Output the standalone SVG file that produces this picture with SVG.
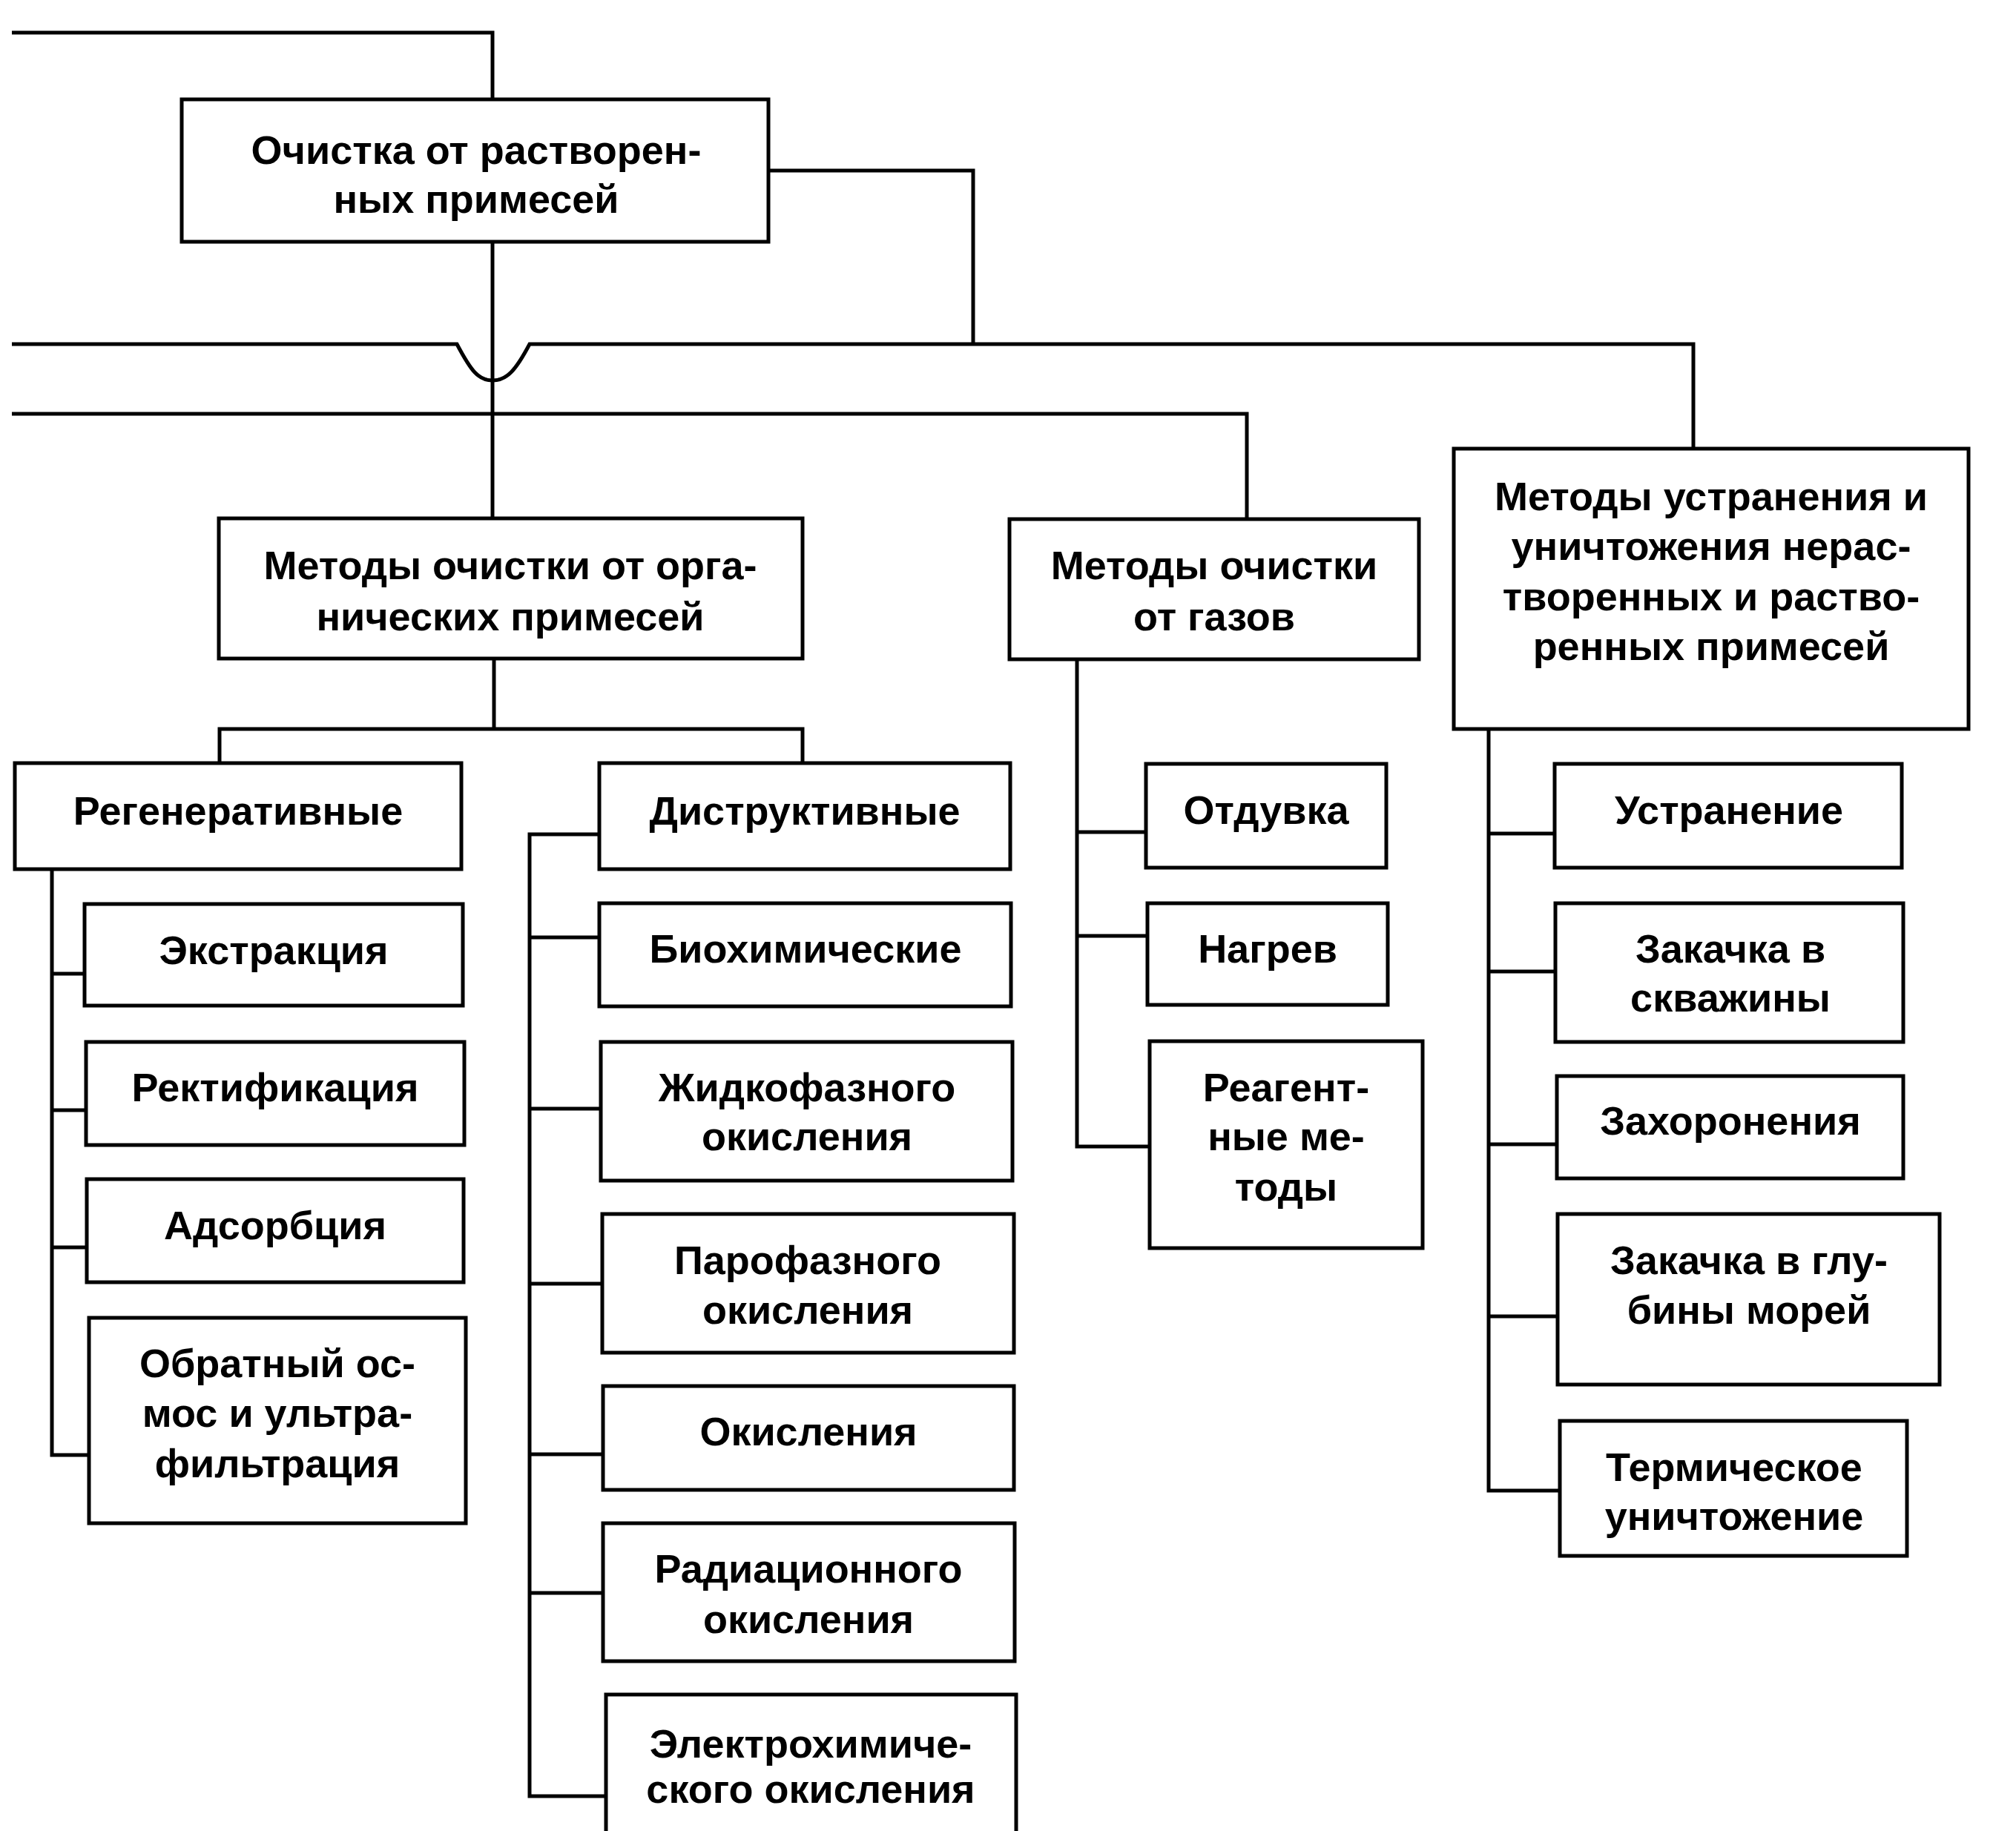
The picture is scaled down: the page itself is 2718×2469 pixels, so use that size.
<svg xmlns="http://www.w3.org/2000/svg" width="2718" height="2469" viewBox="0 0 2718 2469">
<style>
.box{fill:#fff;stroke:#000;stroke-width:5}
.ln{fill:none;stroke:#000;stroke-width:5;stroke-linejoin:miter}
text{font-family:"Liberation Sans",Arial,sans-serif;font-weight:bold;font-size:54px;fill:#000;text-anchor:middle}
</style>
<rect width="2718" height="2469" fill="#fff"/>
<g id="connectors">
<path class="ln" d="M16 44 H664 V134"/>
<path class="ln" d="M1036 230 H1312 V464"/>
<path class="ln" d="M16 464 L616 464 C635 500 645 513 664 513 C683 513 695 500 714 464 L2283 464 V605"/>
<path class="ln" d="M16 558 H1681 V700"/>
<path class="ln" d="M664 326 V699"/>
<path class="ln" d="M666 888 V983"/>
<path class="ln" d="M296 1029 V983 H1082 V1029"/>
<path class="ln" d="M70 1172 V1962 H120 M70 1313 H114 M70 1497 H116 M70 1682 H116"/>
<path class="ln" d="M808 1125 H714 V2422 H817 M714 1264 H808 M714 1495 H810 M714 1731 H812 M714 1961 H813 M714 2148 H813"/>
<path class="ln" d="M1452 889 V1546 H1550 M1452 1122 H1545 M1452 1262 H1547"/>
<path class="ln" d="M2007 983 V2010 H2103 M2007 1124 H2096 M2007 1310 H2097 M2007 1543 H2099 M2007 1775 H2100"/>
</g>
<g id="n-root"><rect class="box" x="245" y="134" width="791" height="192"/><text x="642" y="221">Очистка от растворен-</text><text x="642" y="287">ных примесей</text></g>
<g id="n-organic"><rect class="box" x="295" y="699" width="787" height="189"/><text x="688" y="781">Методы очистки от орга-</text><text x="688" y="850">нических примесей</text></g>
<g id="n-gas"><rect class="box" x="1361" y="700" width="552" height="189"/><text x="1637" y="781">Методы очистки</text><text x="1637" y="850">от газов</text></g>
<g id="n-elim"><rect class="box" x="1960" y="605" width="694" height="378"/><text x="2307" y="688">Методы устранения и</text><text x="2307" y="755">уничтожения нерас-</text><text x="2307" y="823">творенных и раство-</text><text x="2307" y="890">ренных примесей</text></g>
<g id="n-regen"><rect class="box" x="20" y="1029" width="602" height="143"/><text x="321" y="1112">Регенеративные</text></g>
<g id="n-destr"><rect class="box" x="808" y="1029" width="554" height="143"/><text x="1085" y="1112">Диструктивные</text></g>
<g id="n-extr"><rect class="box" x="114" y="1219" width="510" height="137"/><text x="369" y="1300">Экстракция</text></g>
<g id="n-rect"><rect class="box" x="116" y="1405" width="510" height="139"/><text x="371" y="1485">Ректификация</text></g>
<g id="n-adsorb"><rect class="box" x="117" y="1590" width="508" height="139"/><text x="371" y="1671">Адсорбция</text></g>
<g id="n-osmos"><rect class="box" x="120" y="1777" width="508" height="277"/><text x="374" y="1857">Обратный ос-</text><text x="374" y="1924">мос и ультра-</text><text x="374" y="1992">фильтрация</text></g>
<g id="n-bio"><rect class="box" x="808" y="1218" width="555" height="139"/><text x="1086" y="1298">Биохимические</text></g>
<g id="n-liquid"><rect class="box" x="810" y="1405" width="555" height="187"/><text x="1088" y="1485">Жидкофазного</text><text x="1088" y="1551">окисления</text></g>
<g id="n-vapor"><rect class="box" x="812" y="1637" width="555" height="187"/><text x="1089" y="1718">Парофазного</text><text x="1089" y="1785">окисления</text></g>
<g id="n-oxid"><rect class="box" x="813" y="1869" width="554" height="140"/><text x="1090" y="1949">Окисления</text></g>
<g id="n-rad"><rect class="box" x="813" y="2054" width="555" height="186"/><text x="1090" y="2134">Радиационного</text><text x="1090" y="2202">окисления</text></g>
<g id="n-electro"><rect class="box" x="817" y="2285" width="553" height="210"/><text x="1093" y="2370">Электрохимиче-</text><text x="1093" y="2431">ского окисления</text></g>
<g id="n-blow"><rect class="box" x="1545" y="1030" width="324" height="140"/><text x="1707" y="1111">Отдувка</text></g>
<g id="n-heat"><rect class="box" x="1547" y="1218" width="324" height="137"/><text x="1709" y="1298">Нагрев</text></g>
<g id="n-reag"><rect class="box" x="1550" y="1404" width="368" height="279"/><text x="1734" y="1485">Реагент-</text><text x="1734" y="1551">ные ме-</text><text x="1734" y="1619">тоды</text></g>
<g id="n-remove"><rect class="box" x="2096" y="1030" width="468" height="140"/><text x="2331" y="1111">Устранение</text></g>
<g id="n-wells"><rect class="box" x="2097" y="1218" width="469" height="187"/><text x="2333" y="1298">Закачка в</text><text x="2333" y="1364">скважины</text></g>
<g id="n-burial"><rect class="box" x="2099" y="1451" width="467" height="138"/><text x="2333" y="1530">Захоронения</text></g>
<g id="n-sea"><rect class="box" x="2100" y="1637" width="515" height="230"/><text x="2358" y="1718">Закачка в глу-</text><text x="2358" y="1785">бины морей</text></g>
<g id="n-thermal"><rect class="box" x="2103" y="1916" width="468" height="182"/><text x="2338" y="1997">Термическое</text><text x="2338" y="2063">уничтожение</text></g>
</svg>
